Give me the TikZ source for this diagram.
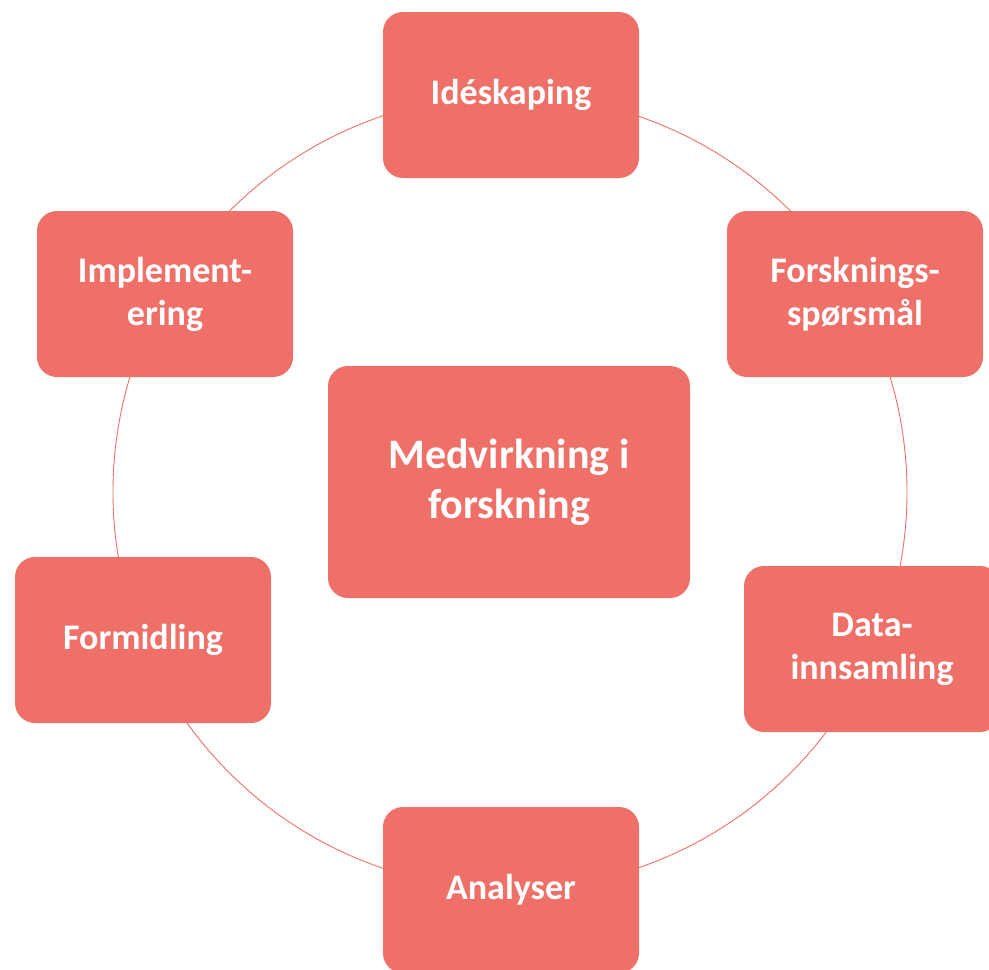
\documentclass[tikz,border=0pt]{standalone}
\usepackage{fontspec}
\setmainfont{Carlito}
\definecolor{boxred}{HTML}{EE7068}
\definecolor{ringred}{HTML}{EE7068}

\begin{document}
\begin{tikzpicture}[x=1pt, y=-1pt,
  stage/.style={fill=boxred, rounded corners=20pt, minimum width=256pt, minimum height=166pt,
    align=center, text=white, font=\fontsize{36}{43}\selectfont\bfseries},
  hubbox/.style={stage, minimum width=362pt, minimum height=232pt,
    font=\fontsize{42}{50}\selectfont\bfseries}]

\useasboundingbox (0,0) rectangle (989,970);

% Ring
\coordinate (hub) at (510,492);
\draw[ringred, line width=0.9pt] (hub) circle[radius=397];

% Stages round the ring
\node[stage] (ide) at (511,95) {Idéskaping};
\node[stage] (sporsmal) at (855,294) {Forsknings-\\spørsmål};
\node[stage] (data) at (872,649) {Data-\\innsamling};
\node[stage] (analyser) at (511,890) {Analyser};
\node[stage] (formidling) at (143,640) {Formidling};
\node[stage] (implement) at (165,294) {Implement-\\ering};

% Centre
\node[hubbox] (midt) at (509,482) {Medvirkning i\\forskning};

\end{tikzpicture}
\end{document}
